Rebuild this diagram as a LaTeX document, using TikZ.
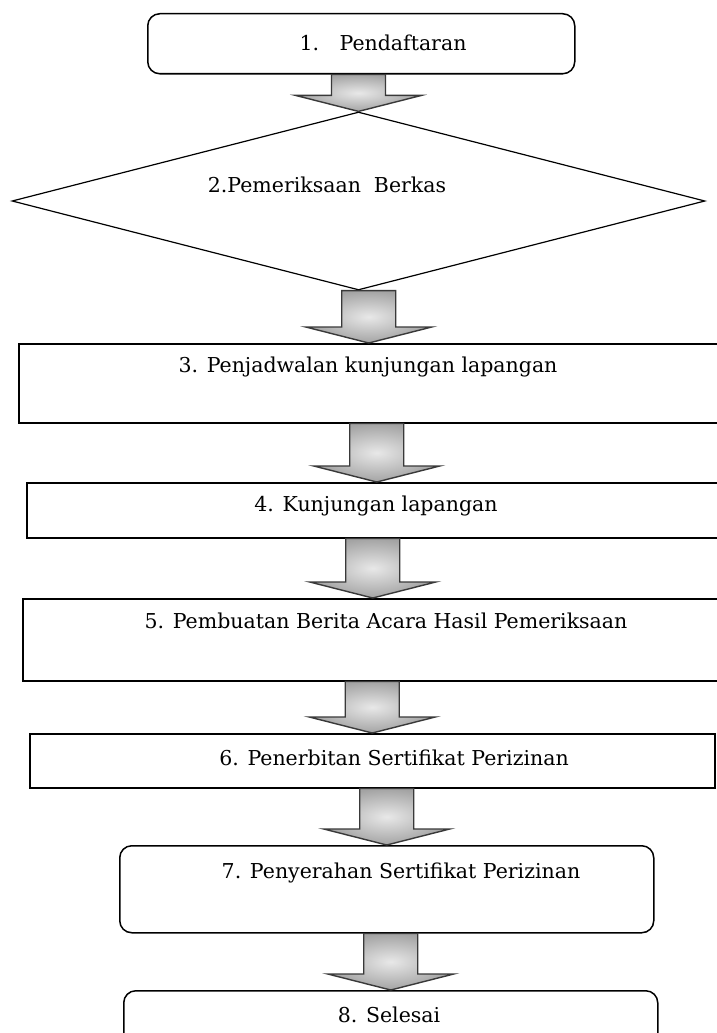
\documentclass[tikz,border=0pt]{standalone}
\usepackage{fontspec}
\setmainfont{DejaVu Serif}
\usetikzlibrary{shapes.geometric,calc}
\tikzset{
  box/.style={draw=black, line width=1.5pt, fill=white, inner sep=0pt, anchor=north west},
  rbox/.style={box, rounded corners=12pt},
  lbl/.style={inner sep=0pt, font=\fontsize{20.5}{24}\selectfont},
  barrow/.style={draw=gray!45!black, line width=1.4pt, inner color=gray!18, outer color=gray!72},
}
\newcommand{\blockarrow}[2]{%
  \path[barrow] let \p1=(#1.south), \p2=(#2.north) in
    (\x2-27pt,\y1) -- (\x2+27pt,\y1) -- (\x2+27pt,\y2+16pt) -- (\x2+63pt,\y2+16pt)
    -- (\x2,\y2) -- (\x2-63pt,\y2+16pt) -- (\x2-27pt,\y2+16pt) -- cycle;}
\begin{document}
\begin{tikzpicture}[x=1pt,y=-1pt]
\useasboundingbox (0,0) rectangle (717,1033);
\clip (0,0) rectangle (717,1033);
% boxes
\node[rbox, minimum width=427pt, minimum height=60pt] (b1) at (147,13) {};
\node[draw=black, line width=1.2pt, diamond, aspect=3.89, minimum width=693pt, minimum height=178pt, inner sep=0pt] (d2) at (358.5,201) {};
\node[box, minimum width=700pt, minimum height=79pt] (b3) at (18,343) {};
\node[box, minimum width=700pt, minimum height=55pt] (b4) at (26,482) {};
\node[box, minimum width=700pt, minimum height=82pt] (b5) at (22,598) {};
\node[box, minimum width=685pt, minimum height=54pt] (b6) at (29,733) {};
\node[rbox, minimum width=534pt, minimum height=87pt] (b7) at (119,845) {};
\node[rbox, minimum width=534pt, minimum height=70pt] (b8) at (123,990) {};
% arrows
\blockarrow{b1}{d2}
\blockarrow{d2}{b3}
\blockarrow{b3}{b4}
\blockarrow{b4}{b5}
\blockarrow{b5}{b6}
\blockarrow{b6}{b7}
\blockarrow{b7}{b8}
% labels
\node[lbl] (t1) at (383,43) {1.\hspace{1em}Pendaftaran};
\node[lbl] (t2) at (327,185) {2.Pemeriksaan\ \ Berkas};
\node[lbl] (t3) at (368,367) {3. Penjadwalan kunjungan lapangan};
\node[lbl] (t4) at (376,506) {4. Kunjungan lapangan};
\node[lbl] (t5) at (386,621) {5. Pembuatan Berita Acara Hasil Pemeriksaan};
\node[lbl] (t6) at (394,758) {6. Penerbitan Sertifikat Perizinan};
\node[lbl] (t7) at (401,873) {7. Penyerahan Sertifikat Perizinan};
\node[lbl] (t8) at (389,1015) {8. Selesai};
\end{tikzpicture}
\end{document}
